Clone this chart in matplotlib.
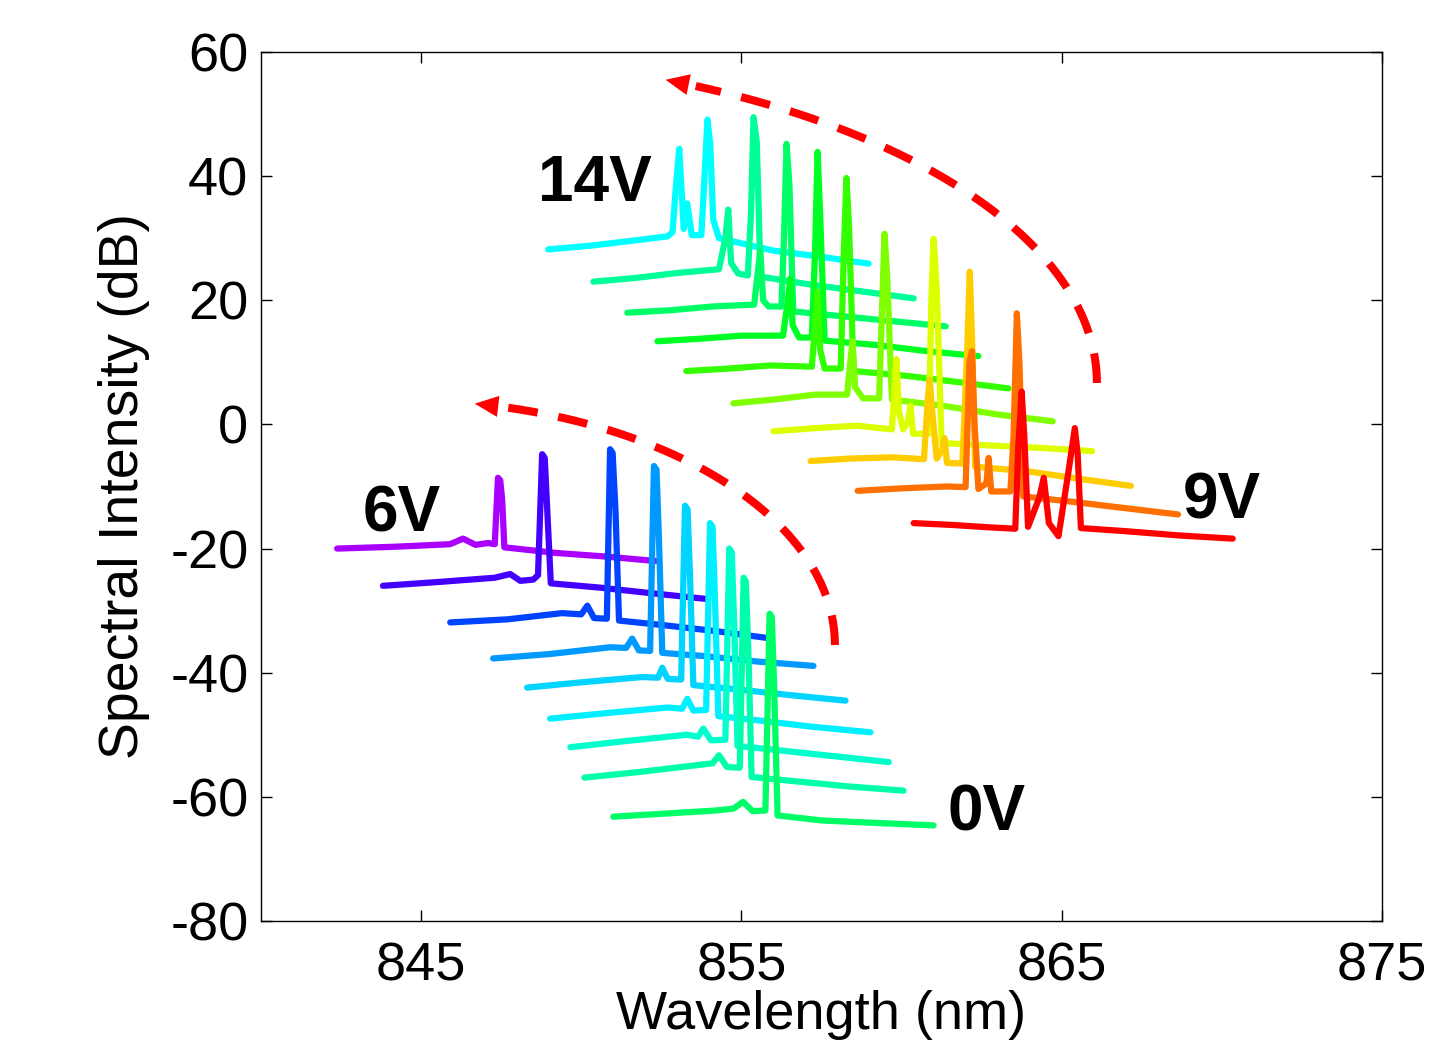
import numpy as np
import matplotlib
matplotlib.use("Agg")
import matplotlib.pyplot as plt

plt.rcParams['font.family'] = ['Liberation Sans', 'DejaVu Sans']
plt.rcParams['axes.unicode_minus'] = False

# lower set of spectra, 0V (bottom) .. 6V (top)
lower_wl = [
    [851.0, 852.6, 854.2, 854.75, 855.05, 855.35, 855.75, 855.88, 855.95, 856.02, 856.13, 857.5, 859.2, 861.0],
    [850.1, 851.8, 853.6, 854.1, 854.3, 854.55, 854.95, 855.07, 855.14, 855.22, 855.32, 856.5, 858.3, 860.06],
    [849.66, 851.4, 853.3, 853.65, 853.81, 854.05, 854.5, 854.62, 854.7, 854.78, 854.88, 856.0, 857.8, 859.6],
    [849.03, 850.8, 852.7, 853.15, 853.31, 853.5, 853.9, 854.02, 854.1, 854.18, 854.28, 855.4, 857.2, 859.03],
    [848.31, 850.1, 851.9, 852.4, 852.53, 852.7, 853.12, 853.24, 853.32, 853.4, 853.5, 854.7, 856.5, 858.25],
    [847.25, 849.0, 850.9, 851.4, 851.59, 851.8, 852.15, 852.27, 852.35, 852.43, 852.53, 853.8, 855.5, 857.25],
    [845.91, 847.7, 849.4, 850.0, 850.19, 850.4, 850.8, 850.9, 850.98, 851.07, 851.18, 852.5, 854.2, 855.81],
    [843.81, 845.5, 847.3, 847.78, 848.1, 848.5, 848.65, 848.78, 848.86, 848.95, 849.05, 850.6, 852.2, 853.88],
    [842.38, 844.2, 845.9, 846.31, 846.7, 847.1, 847.3, 847.4, 847.47, 847.53, 847.6, 849.2, 850.8, 852.31],
]
lower_db = [
    [-63.2, -62.7, -62.2, -61.9, -60.8, -62.3, -62.2, -30.5, -31.0, -41.7, -63.0, -63.8, -64.2, -64.6],
    [-56.9, -56.0, -54.9, -54.6, -53.3, -55.2, -55.3, -24.7, -25.3, -37.0, -56.8, -57.4, -58.3, -59.0],
    [-52.0, -51.0, -50.0, -50.3, -49.0, -50.9, -50.8, -20.0, -20.6, -33.0, -51.8, -52.4, -53.4, -54.4],
    [-47.4, -46.5, -45.6, -45.8, -44.2, -46.1, -46.0, -15.9, -16.5, -29.0, -47.0, -47.6, -48.7, -49.6],
    [-42.4, -41.5, -40.7, -40.8, -39.2, -41.0, -41.1, -13.1, -13.7, -25.0, -42.0, -42.6, -43.6, -44.5],
    [-37.7, -37.0, -35.9, -36.0, -34.5, -36.4, -36.5, -6.7, -7.3, -19.0, -36.8, -37.3, -38.2, -38.9],
    [-31.9, -31.4, -30.4, -30.6, -29.2, -31.2, -31.3, -4.0, -4.6, -14.0, -31.6, -32.3, -33.3, -34.4],
    [-26.0, -25.4, -24.7, -24.1, -25.2, -25.0, -24.3, -4.8, -5.4, -15.0, -25.6, -26.3, -27.2, -28.1],
    [-20.0, -19.7, -19.3, -18.4, -19.4, -19.1, -19.3, -8.6, -9.0, -12.0, -19.8, -20.7, -21.3, -22.0],
]
lower_colors = ['#00ff66', '#00ffaa', '#00ffcc', '#00f0ff', '#00d4ff',
                '#0099ff', '#0044ff', '#4400ff', '#aa00ff']

# upper set of spectra, 9V (bottom) .. 14V (top)
upper_wl = [
    [860.38, 861.6, 862.8, 863.55, 863.65, 863.75, 863.83, 863.95, 864.3, 864.44, 864.6, 864.9, 865.2, 865.41, 865.5, 865.6, 867.0, 868.7, 870.34],
    [858.63, 860.0, 861.4, 862.0, 862.12, 862.2, 862.28, 862.4, 862.65, 862.72, 862.8, 863.4, 863.5, 863.6, 863.68, 863.8, 865.4, 867.0, 868.63],
    [857.16, 858.4, 859.7, 860.7, 860.82, 860.88, 860.96, 861.1, 861.28, 861.34, 861.42, 861.9, 862.05, 862.13, 862.2, 862.3, 864.0, 865.6, 867.16],
    [856.0, 857.3, 858.6, 859.7, 859.78, 859.84, 859.92, 860.05, 860.2, 860.28, 860.36, 860.85, 860.93, 861.0, 861.1, 861.25, 862.8, 864.4, 865.95],
    [854.75, 856.0, 857.3, 858.3, 858.4, 858.47, 858.55, 858.8, 859.3, 859.4, 859.47, 859.55, 859.7, 861.3, 863.0, 864.72],
    [853.28, 854.6, 855.9, 857.2, 857.3, 857.38, 857.46, 857.6, 858.1, 858.2, 858.28, 858.36, 858.5, 860.2, 861.8, 863.34],
    [852.38, 853.7, 855.0, 856.3, 856.45, 856.53, 856.6, 856.8, 857.2, 857.3, 857.38, 857.45, 857.6, 859.2, 860.8, 862.4],
    [851.44, 852.8, 854.1, 855.4, 855.5, 855.59, 855.68, 855.85, 856.25, 856.33, 856.41, 856.5, 856.62, 858.2, 859.8, 861.38],
    [850.38, 851.7, 853.0, 854.3, 854.5, 854.59, 854.68, 854.9, 855.2, 855.3, 855.38, 855.48, 855.6, 857.2, 858.8, 860.38],
    [848.97, 850.3, 851.6, 852.7, 852.85, 852.95, 853.06, 853.2, 853.31, 853.45, 853.75, 853.85, 853.94, 854.03, 854.12, 854.3, 856.0, 857.5, 858.97],
]
upper_db = [
    [-15.9, -16.2, -16.6, -16.8, -3.2, 5.3, -1.6, -16.5, -11.8, -8.6, -15.9, -18.0, -8.0, -0.6, -4.8, -16.7, -17.2, -17.9, -18.4],
    [-10.7, -10.3, -10.0, -10.1, 10.0, 11.8, 0.0, -10.4, -9.5, -5.4, -10.8, -10.8, -1.5, 17.9, 10.0, -11.6, -12.5, -13.5, -14.5],
    [-5.9, -5.5, -5.3, -5.6, 4.0, 7.2, 2.0, -5.5, -4.0, -2.2, -6.2, -6.3, 12.0, 24.6, 14.0, -6.8, -7.6, -8.8, -9.9],
    [-1.1, -0.6, -0.2, -0.8, 6.0, 10.5, 2.0, -0.8, 0.5, 3.0, -1.5, -1.5, 20.0, 29.9, 22.0, -3.0, -3.4, -3.8, -4.3],
    [3.4, 4.0, 4.8, 4.8, 10.0, 13.4, 6.0, 4.2, 4.2, 20.0, 30.7, 24.0, 4.0, 3.0, 1.6, 0.5],
    [8.6, 9.0, 9.5, 9.3, 16.0, 21.4, 12.0, 9.0, 9.0, 28.0, 39.7, 32.0, 8.6, 7.8, 6.8, 5.8],
    [13.4, 13.8, 14.3, 14.3, 20.0, 23.5, 16.0, 14.0, 14.0, 28.0, 43.9, 35.0, 13.5, 12.8, 11.8, 11.0],
    [18.0, 18.4, 19.0, 19.3, 24.0, 27.9, 20.0, 19.0, 19.0, 30.0, 45.2, 38.6, 18.2, 17.4, 16.6, 15.8],
    [23.0, 23.6, 24.4, 25.0, 30.0, 34.6, 26.0, 24.3, 24.0, 34.0, 49.5, 45.5, 23.8, 22.5, 21.4, 20.3],
    [28.2, 28.8, 29.6, 30.3, 31.0, 38.0, 44.4, 31.5, 35.6, 30.5, 30.5, 40.0, 49.1, 45.1, 33.0, 30.0, 28.0, 27.0, 25.9],
]
upper_colors = ['#ff0000', '#ff7000', '#ffcc00', '#ddff00', '#80ff00',
                '#33ff00', '#00ff22', '#00ff66', '#00ff99', '#00ffff']

x_ticks = [845, 855, 865, 875]
y_ticks = [-80, -60, -40, -20, 0, 20, 40, 60]


def dashed_arrow(ax, cx, cy, a, b, t_end):
    # quarter-ellipse guide arrow, drawn in data units
    t = np.linspace(0, t_end, 300)
    x = cx + a * np.cos(t)
    y = cy + b * np.sin(t)
    ax.plot(x[:-12], y[:-12], color='red', lw=5.8, dashes=(3.7, 2.6), zorder=5)
    ax.annotate('', xy=(x[-1], y[-1]), xytext=(x[-14], y[-14]),
                arrowprops=dict(arrowstyle='-|>,head_length=0.85,head_width=0.38',
                                mutation_scale=20, color='red', lw=0,
                                shrinkA=0, shrinkB=0), zorder=6)


fig = plt.figure(figsize=(14.29, 10.46), dpi=100)
ax = fig.add_axes([0.1826, 0.1195, 0.7845, 0.8308])

for wl, db, c in reversed(list(zip(upper_wl, upper_db, upper_colors))):
    ax.plot(wl, db, color=c, lw=4.5, solid_joinstyle='round', solid_capstyle='round')
for wl, db, c in reversed(list(zip(lower_wl, lower_db, lower_colors))):
    ax.plot(wl, db, color=c, lw=4.5, solid_joinstyle='round', solid_capstyle='round')

dashed_arrow(ax, 844.34, 6.67, 21.76, 52.84, np.deg2rad(67.6))
dashed_arrow(ax, 844.34, -35.54, 13.58, 39.47, np.deg2rad(80.1))

ax.text(848.66, 36.0, '14V', fontsize=46, fontweight='bold', ha='left', va='baseline')
ax.text(843.16, -17.2, '6V', fontsize=46, fontweight='bold', ha='left', va='baseline')
ax.text(868.78, -15.1, '9V', fontsize=46, fontweight='bold', ha='left', va='baseline')
ax.text(861.44, -65.4, '0V', fontsize=46, fontweight='bold', ha='left', va='baseline')

ax.set_xlim(840, 875)
ax.set_ylim(-80, 60)
ax.set_xticks(x_ticks)
ax.set_yticks(y_ticks)
ax.tick_params(direction='in', length=8, width=1, top=True, right=True, labelsize=39)
ax.tick_params(axis='x', pad=15)
ax.tick_params(axis='y', pad=9)
for s in ax.spines.values():
    s.set_linewidth(1.0)

ax.set_xlabel('Wavelength (nm)', fontsize=39)
ax.set_ylabel('Spectral Intensity (dB)', fontsize=40)
ax.xaxis.set_label_coords(0.5, -0.079)
ax.yaxis.set_label_coords(-0.099, 0.5)

fig.savefig('out.png', dpi=100)
